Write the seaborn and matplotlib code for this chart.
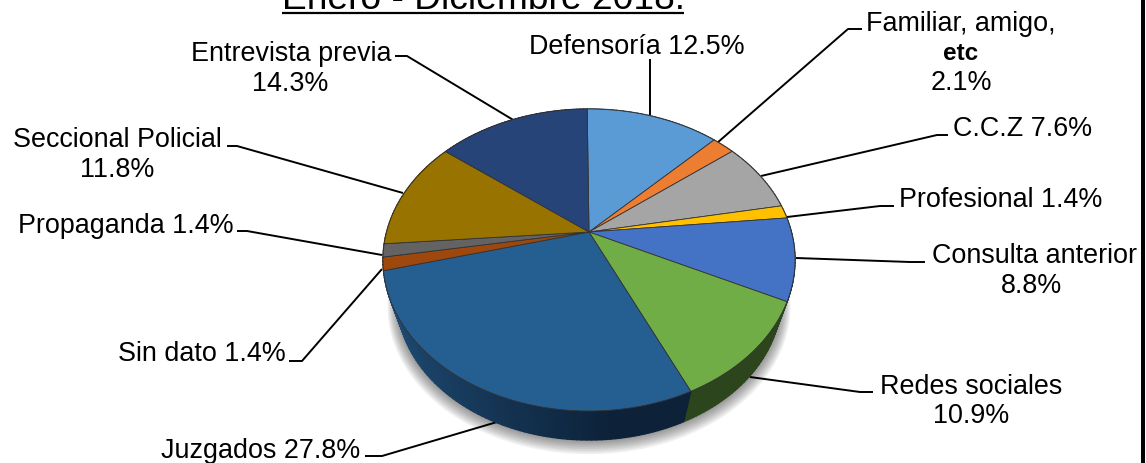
import numpy as np
import seaborn as sns
import matplotlib.pyplot as plt

sns.set_theme(style='white')
plt.rcParams['font.family'] = ['Liberation Sans', 'DejaVu Sans']

categories = ['Defensoría', 'Familiar, amigo, etc', 'C.C.Z', 'Profesional', 'Consulta anterior',
              'Redes sociales', 'Juzgados', 'Sin dato', 'Propaganda', 'Seccional Policial', 'Entrevista previa']
values = [12.5, 2.1, 7.6, 1.4, 8.8, 10.9, 27.8, 1.4, 1.4, 11.8, 14.3]
colors = ['#5B9BD5', '#ED7D31', '#A5A5A5', '#FFC000', '#4472C4', '#70AD47',
          '#255E91', '#9E480E', '#636363', '#997300', '#264478']
title = 'Enero - Diciembre 2018.'

# text, x centre, y centre (pixels)
label_text = ['Entrevista previa', '14.3%', 'Defensoría 12.5%', 'Familiar, amigo,', '2.1%', 'C.C.Z 7.6%',
              'Profesional 1.4%', 'Consulta anterior', '8.8%', 'Redes sociales', '10.9%', 'Juzgados 27.8%',
              'Sin dato 1.4%', 'Propaganda 1.4%', 'Seccional Policial', '11.8%']
label_x = [291, 290, 637, 961, 961, 1023, 1001, 1034, 1032, 971, 971, 261, 202, 126, 117, 117]
label_y = [54, 84, 47, 24, 83, 129, 200, 256, 286, 387, 416, 451, 354, 226, 140, 170]

leaders = [
    [(395, 57), (407, 57), (515, 122)],
    [(650, 60), (650, 118)],
    [(862, 30), (848, 30), (717, 144)],
    [(948, 136), (937, 136), (761, 177)],
    [(894, 207), (880, 207), (787, 218)],
    [(925, 263), (910, 263), (796, 259)],
    [(873, 393), (860, 393), (750, 378)],
    [(365, 457), (382, 457), (497, 423)],
    [(289, 362), (302, 362), (382, 270)],
    [(237, 232), (247, 232), (382, 256)],
    [(227, 147), (237, 147), (403, 194)],
]

# pie projection, pixels
cx, cy = 589, 233
up, down, half_w = 123, 179, 206
p = (down - up) / (down + up)
a = up * (1 + p)
b = half_w * np.sqrt(1 - p ** 2)
low_scale, low_shift = 0.93, 41.5
turn = np.deg2rad(-0.6)


def rim(t, scale=1.0, shift=0.0):
    # t is the angle clockwise from the top
    d = 1 + p * np.cos(t)
    return cx + scale * b * np.sin(t) / d, cy - scale * a * np.cos(t) / d + shift


def mix(c1, c2, f):
    return tuple(np.array(c1) * (1 - f) + np.array(c2) * f)


fig = plt.figure(figsize=(11.46, 4.64), dpi=100)
ax = fig.add_axes([0, 0, 1, 1])
ax.set_xlim(0, 1146)
ax.set_ylim(464, 0)
ax.axis('off')

palette = sns.color_palette(colors)
edges = np.cumsum([0] + values) / 100 * 2 * np.pi + turn

# soft shadow under the pie
tt = np.linspace(0, 2 * np.pi, 300)
for k in range(8):
    sx, sy = rim(tt, low_scale + 0.006 * (8 - k), low_shift + 0.7 * (8 - k))
    ax.fill(sx, sy, color='black', alpha=0.06, lw=0, zorder=1)

for pts in leaders:
    xs, ys = zip(*pts)
    ax.plot(xs, ys, color='black', lw=1.4, solid_capstyle='butt', zorder=2)

# side wall, shaded in steps
for i, col in enumerate(palette):
    steps = max(2, int(values[i] * 3))
    t_edges = np.linspace(edges[i], edges[i + 1], steps + 1)
    for j in range(steps):
        t = np.linspace(t_edges[j], t_edges[j + 1], 6)
        x1, y1 = rim(t)
        x2, y2 = rim(t[::-1], low_scale, low_shift)
        # darkest towards the front right
        f = (np.sin(t.mean()) + 1) / 2
        if categories[i] == 'Juzgados':
            shade = mix((0.12, 0.30, 0.46), (0.05, 0.13, 0.22), min(1, f / 0.55))
        else:
            shade = mix(col, (0, 0, 0), 0.6)
        ax.fill(np.r_[x1, x2], np.r_[y1, y2], facecolor=shade, edgecolor=shade, lw=1.0, zorder=3)

# top face
for i, col in enumerate(palette):
    t = np.linspace(edges[i], edges[i + 1], 80)
    x1, y1 = rim(t)
    ax.fill(np.r_[cx, x1], np.r_[cy, y1], facecolor=col, edgecolor='#333333', lw=0.6, zorder=4)

for txt, x, y in zip(label_text, label_x, label_y):
    ax.text(x, y, txt, fontsize=19.4, color='black', ha='center', va='center', zorder=5)
ax.text(961, 54, 'etc', fontsize=17.5, fontweight='bold', color='black', ha='center', va='center', zorder=5)

ax.text(483, 9, title, fontsize=26.7, color='black', ha='center', va='baseline', zorder=5)
ax.plot([282, 684], [13.5, 13.5], color='black', lw=1.6, solid_capstyle='butt', zorder=5)

# black border on the right edge of the picture
ax.plot([1143, 1143], [0, 464], color='black', lw=2.9, solid_capstyle='butt', clip_on=False, zorder=6)

fig.savefig('out.png', dpi=100)
